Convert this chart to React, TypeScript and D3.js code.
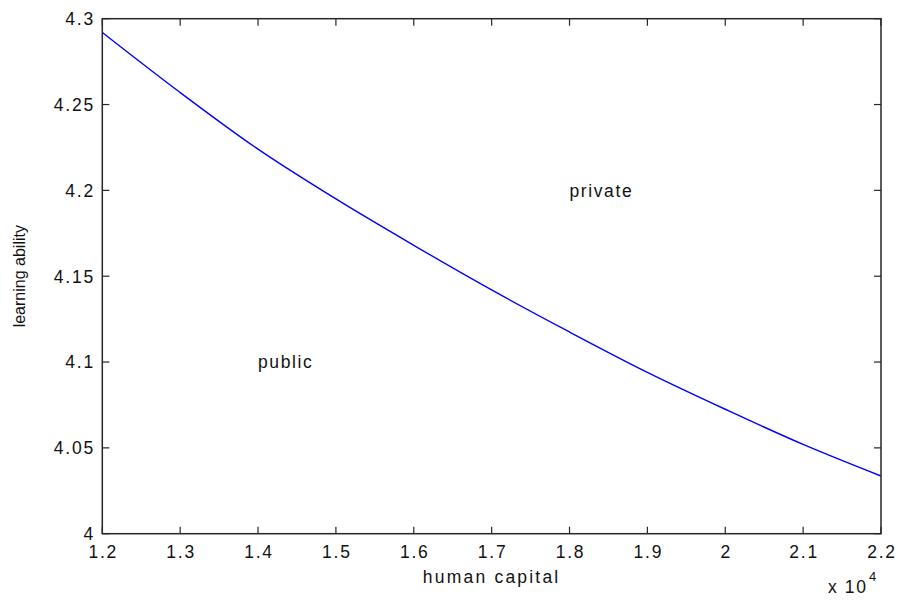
import React from "react";
import * as d3 from "d3";

// Human capital (in units of 10^4) and the threshold learning ability
const humanCapital = [1.2, 1.3, 1.4, 1.5, 1.6, 1.7, 1.8, 1.9, 2.0, 2.1, 2.2];
const learningAbility = [4.292, 4.257, 4.224, 4.195, 4.168, 4.142, 4.1175, 4.094, 4.0725, 4.052, 4.0336];

const xTicks = [1.2, 1.3, 1.4, 1.5, 1.6, 1.7, 1.8, 1.9, 2, 2.1, 2.2];
const yTicks = [4, 4.05, 4.1, 4.15, 4.2, 4.25, 4.3];

const regionLabels = [
  { text: "public", x: 1.4, y: 4.1 },
  { text: "private", x: 1.8, y: 4.2 },
];

const W = 898;
const H = 602;
const M = { left: 102.3, right: 881, top: 18.7, bottom: 533.7 };
const TICK = 7;
const AXIS = "#262626";
const FONT = "Arial, 'Liberation Sans', sans-serif";

export default function App() {
  const x = d3.scaleLinear().domain([1.2, 2.2]).range([M.left, M.right]);
  const y = d3.scaleLinear().domain([4, 4.3]).range([M.bottom, M.top]);

  const line = d3
    .line<number>()
    .x((_, i) => x(humanCapital[i]))
    .y((d) => y(d))
    .curve(d3.curveMonotoneX);

  const fmt = (v: number) => String(+v.toFixed(2));

  return (
    <svg
      width={W}
      height={H}
      style={{ position: "absolute", left: 0, top: 0, background: "#fff" }}
      fontFamily={FONT}
    >
      <rect x={0} y={0} width={W} height={H} fill="#fff" />
      <path d={line(learningAbility) || ""} fill="none" stroke="#0000ff" strokeWidth={1.4} />

      {/* x ticks, bottom and top */}
      {xTicks.map((t) => (
        <g key={"x" + t}>
          <line x1={x(t)} x2={x(t)} y1={M.bottom} y2={M.bottom - TICK} stroke={AXIS} strokeWidth={1.2} />
          <line x1={x(t)} x2={x(t)} y1={M.top} y2={M.top + TICK} stroke={AXIS} strokeWidth={1.2} />
          <text
            x={x(t) + 1}
            y={558}
            textAnchor="middle"
            fontSize={17.5}
            letterSpacing={1.8}
            fill="#111"
          >
            {fmt(t)}
          </text>
        </g>
      ))}

      {/* y ticks, left and right */}
      {yTicks.map((t) => (
        <g key={"y" + t}>
          <line x1={M.left} x2={M.left + TICK} y1={y(t)} y2={y(t)} stroke={AXIS} strokeWidth={1.2} />
          <line x1={M.right} x2={M.right - TICK} y1={y(t)} y2={y(t)} stroke={AXIS} strokeWidth={1.2} />
          <text
            x={95}
            y={y(t)}
            dy="0.36em"
            textAnchor="end"
            fontSize={17.5}
            letterSpacing={1.8}
            fill="#111"
          >
            {fmt(t)}
          </text>
        </g>
      ))}

      <rect
        x={M.left}
        y={M.top}
        width={M.right - M.left}
        height={M.bottom - M.top}
        fill="none"
        stroke={AXIS}
        strokeWidth={1.5}
      />

      {regionLabels.map((l) => (
        <text
          key={l.text}
          x={x(l.x)}
          y={y(l.y)}
          dy="0.36em"
          fontSize={17.5}
          letterSpacing={1.6}
          fill="#111"
        >
          {l.text}
        </text>
      ))}

      <text
        x={(M.left + M.right) / 2}
        y={583}
        textAnchor="middle"
        fontSize={17.5}
        letterSpacing={2.2}
        fill="#111"
      >
        human capital
      </text>

      <text x={828} y={593} fontSize={17.5} letterSpacing={1.6} fill="#111">
        x 10
      </text>
      <text x={869} y={581} fontSize={13} fill="#111">
        4
      </text>

      <text
        transform={`translate(24.5, ${(M.top + M.bottom) / 2}) rotate(-90)`}
        textAnchor="middle"
        fontSize={16}
        fill="#111"
      >
        learning ability
      </text>
    </svg>
  );
}
